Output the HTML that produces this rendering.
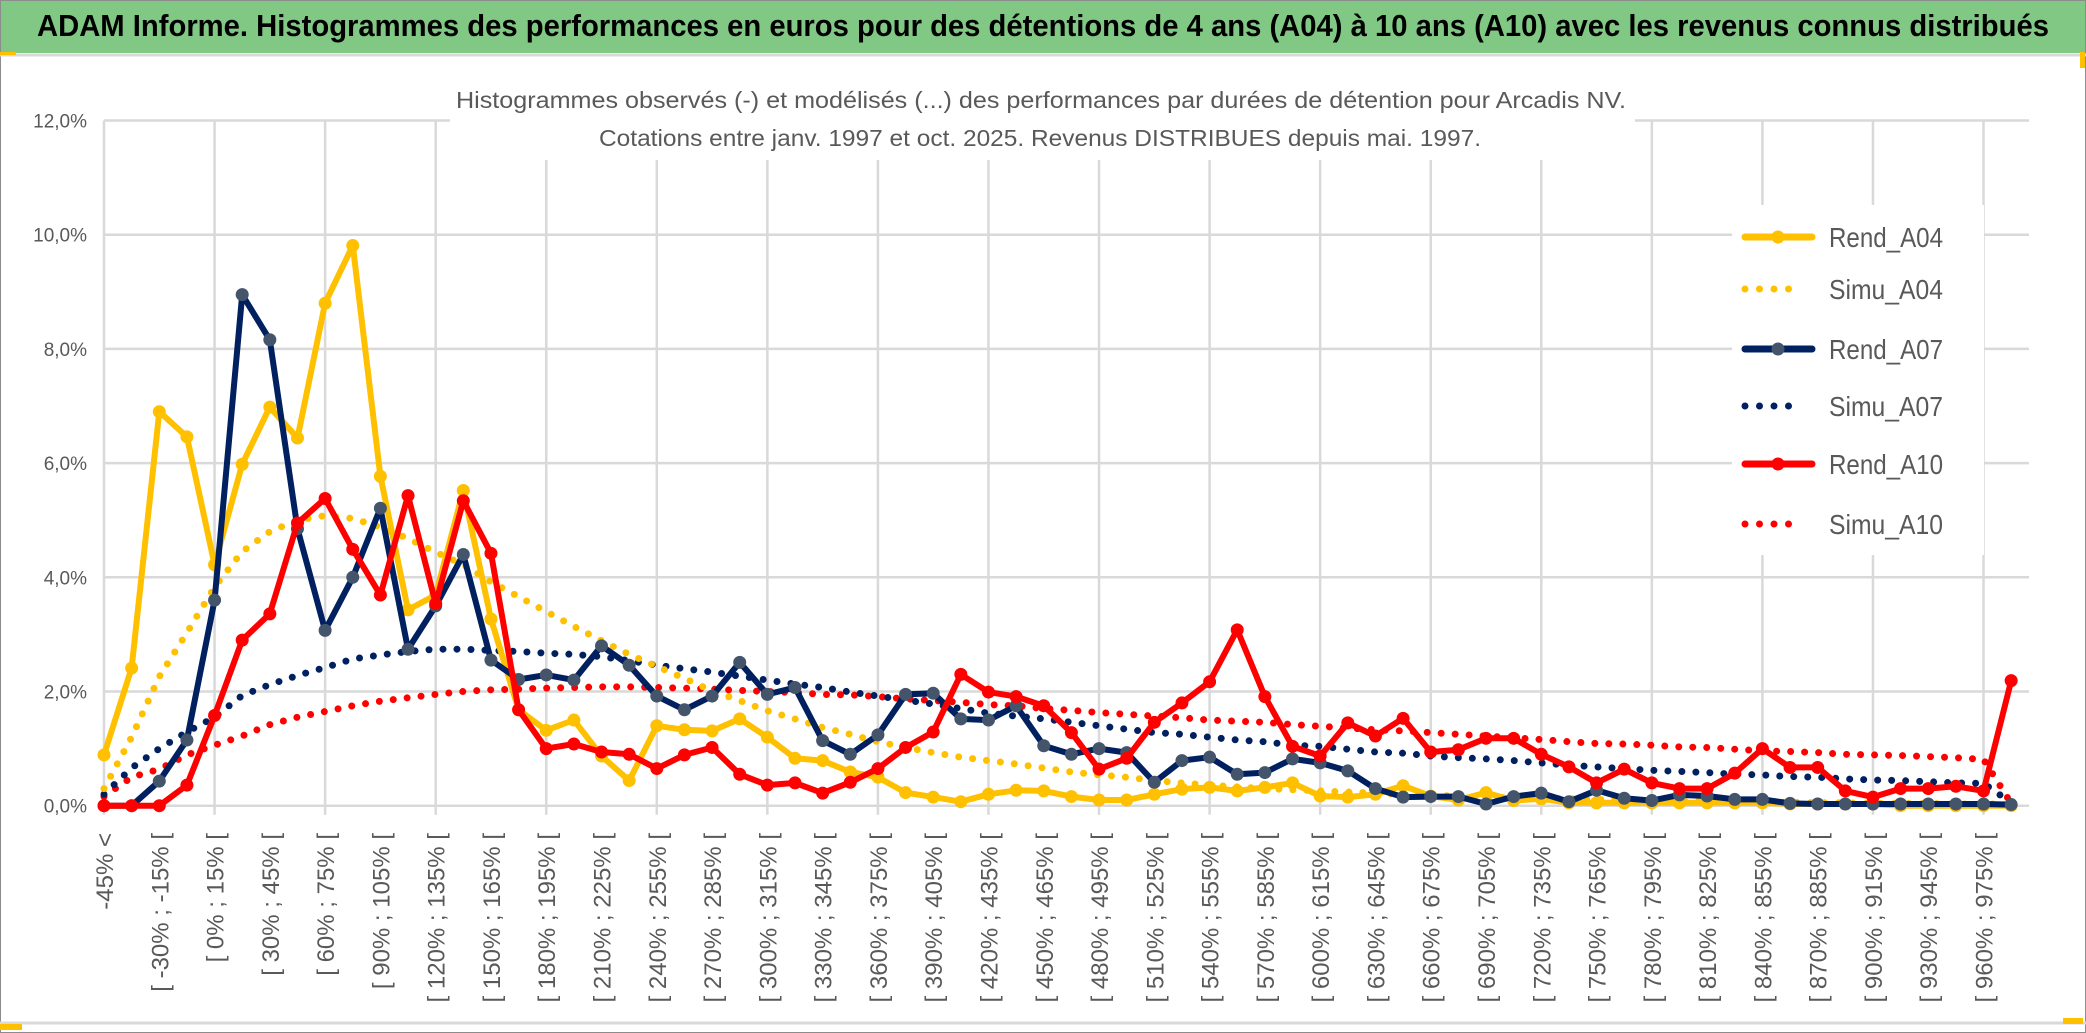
<!DOCTYPE html>
<html><head><meta charset="utf-8"><style>
html,body{margin:0;padding:0;background:#fff;}
svg{display:block;font-family:"Liberation Sans",sans-serif;}
</style></head><body>
<svg id="chart" width="2086" height="1033" viewBox="0 0 2086 1033" xmlns="http://www.w3.org/2000/svg">
<rect x="0" y="0" width="2086" height="1033" fill="#fff"/>
<rect x="0.5" y="0.5" width="2085" height="1032" fill="none" stroke="#8c8c8c" stroke-width="1"/>
<rect x="1" y="1" width="2084" height="52" fill="#80c883"/>
<line x1="0" y1="55" x2="2086" y2="55" stroke="#d9d9d9" stroke-width="3"/>
<line x1="0" y1="1023" x2="2086" y2="1023" stroke="#d9d9d9" stroke-width="3"/>
<rect x="0" y="52" width="16" height="3" fill="#ffc000"/>
<rect x="0" y="1024" width="22" height="6" fill="#ffc000"/>
<rect x="2080" y="52" width="5" height="16" fill="#ffc000"/>
<rect x="2063" y="1018" width="20" height="6" fill="#ffc000"/>
<text x="37" y="36" font-size="31" font-weight="bold" fill="#000" textLength="2012" lengthAdjust="spacingAndGlyphs">ADAM Informe. Histogrammes des performances en euros pour des détentions de 4 ans (A04) à 10 ans (A10) avec les revenus connus distribués</text>
<g id="grid"></g>
<rect x="450" y="78" width="1185" height="82" fill="#fff"/>
<text x="456" y="108" font-size="23" fill="#595959" textLength="1170" lengthAdjust="spacingAndGlyphs">Histogrammes observés (-) et modélisés (...) des performances par durées de détention pour Arcadis NV.</text>
<text x="599" y="146" font-size="23" fill="#595959" textLength="882" lengthAdjust="spacingAndGlyphs">Cotations entre janv. 1997 et oct. 2025. Revenus DISTRIBUES depuis mai. 1997.</text>
<g id="yaxis"></g>
<g id="xaxis"></g>
<g id="series"></g>
<g id="legend"></g>
</svg>
<script>
const xLabels = ["-45% <","[ -30% ; -15% [","[ 0% ; 15% [","[ 30% ; 45% [","[ 60% ; 75% [","[ 90% ; 105% [","[ 120% ; 135% [","[ 150% ; 165% [","[ 180% ; 195% [","[ 210% ; 225% [","[ 240% ; 255% [","[ 270% ; 285% [","[ 300% ; 315% [","[ 330% ; 345% [","[ 360% ; 375% [","[ 390% ; 405% [","[ 420% ; 435% [","[ 450% ; 465% [","[ 480% ; 495% [","[ 510% ; 525% [","[ 540% ; 555% [","[ 570% ; 585% [","[ 600% ; 615% [","[ 630% ; 645% [","[ 660% ; 675% [","[ 690% ; 705% [","[ 720% ; 735% [","[ 750% ; 765% [","[ 780% ; 795% [","[ 810% ; 825% [","[ 840% ; 855% [","[ 870% ; 885% [","[ 900% ; 915% [","[ 930% ; 945% [","[ 960% ; 975% ["];
const yTicks = [0,2,4,6,8,10,12];
const yTickLabels = ["0,0%","2,0%","4,0%","6,0%","8,0%","10,0%","12,0%"];
const rendA04 = [0.89,2.41,6.9,6.46,4.22,5.98,6.98,6.44,8.8,9.81,5.77,3.43,3.69,5.52,3.27,1.68,1.32,1.5,0.87,0.44,1.4,1.33,1.31,1.52,1.2,0.83,0.79,0.59,0.5,0.23,0.15,0.07,0.2,0.27,0.26,0.16,0.1,0.1,0.2,0.29,0.32,0.26,0.32,0.4,0.17,0.15,0.2,0.35,0.17,0.1,0.23,0.09,0.12,0.05,0.05,0.05,0.05,0.05,0.05,0.05,0.05,0.03,0.03,0.03,0.03,0,0,0,0,0];
const simuA04 = [0.3,1.2,2.26,3.03,3.83,4.45,4.8,5.0,5.08,5.03,4.88,4.68,4.44,4.22,3.92,3.66,3.4,3.14,2.89,2.65,2.44,2.23,2.01,1.84,1.66,1.52,1.37,1.25,1.12,1.02,0.93,0.85,0.79,0.73,0.66,0.59,0.54,0.5,0.44,0.4,0.36,0.33,0.3,0.28,0.26,0.24,0.22,0.2,0.18,0.17,0.15,0.14,0.13,0.12,0.11,0.1,0.09,0.08,0.08,0.07,0.06,0.06,0.05,0.05,0.04,0.04,0.04,0.03,0.03,0.03];
const rendA07 = [0,0,0.43,1.15,3.6,8.95,8.16,4.85,3.07,4.0,5.21,2.74,3.5,4.4,2.55,2.21,2.29,2.2,2.8,2.46,1.92,1.68,1.92,2.51,1.95,2.07,1.14,0.9,1.24,1.95,1.97,1.52,1.5,1.75,1.05,0.9,1.0,0.93,0.41,0.79,0.85,0.55,0.58,0.82,0.75,0.61,0.3,0.15,0.16,0.16,0.03,0.16,0.22,0.07,0.27,0.13,0.09,0.19,0.17,0.11,0.11,0.04,0.03,0.03,0.03,0.03,0.03,0.03,0.03,0.02];
const simuA07 = [0.2,0.66,1.0,1.29,1.55,1.93,2.12,2.28,2.42,2.57,2.64,2.7,2.74,2.74,2.72,2.7,2.67,2.65,2.61,2.54,2.46,2.4,2.34,2.27,2.2,2.13,2.07,1.99,1.92,1.85,1.78,1.7,1.62,1.57,1.52,1.46,1.4,1.34,1.28,1.25,1.2,1.15,1.12,1.06,1.04,0.99,0.94,0.92,0.87,0.84,0.82,0.79,0.75,0.71,0.68,0.65,0.62,0.6,0.58,0.55,0.54,0.51,0.5,0.47,0.45,0.44,0.42,0.4,0.39,0.05];
const rendA10 = [0,0,0,0.36,1.58,2.9,3.36,4.95,5.38,4.49,3.69,5.43,3.54,5.34,4.42,1.68,1.0,1.08,0.94,0.9,0.65,0.89,1.02,0.55,0.36,0.4,0.22,0.41,0.65,1.02,1.29,2.3,1.99,1.91,1.75,1.28,0.64,0.83,1.46,1.8,2.17,3.08,1.91,1.04,0.87,1.45,1.22,1.53,0.94,0.98,1.18,1.18,0.9,0.68,0.4,0.64,0.4,0.3,0.3,0.57,1.0,0.67,0.67,0.26,0.15,0.3,0.3,0.34,0.26,2.19];
const simuA10 = [0.16,0.5,0.64,0.89,1.06,1.22,1.42,1.55,1.65,1.75,1.83,1.89,1.95,2.0,2.03,2.04,2.06,2.07,2.08,2.08,2.07,2.06,2.04,2.02,2.0,1.98,1.95,1.94,1.91,1.87,1.84,1.81,1.77,1.75,1.7,1.67,1.63,1.6,1.57,1.54,1.5,1.48,1.46,1.42,1.39,1.36,1.33,1.31,1.28,1.25,1.22,1.19,1.16,1.12,1.09,1.08,1.06,1.03,1.02,0.99,0.96,0.95,0.93,0.9,0.89,0.88,0.86,0.84,0.81,0.04];
const seriesNames = ["Rend_A04","Simu_A04","Rend_A07","Simu_A07","Rend_A10","Simu_A10"];

const NS = "http://www.w3.org/2000/svg";
const X0 = 104, DX = 27.64, Y0 = 805.7, YPX = 57.1;
function xs(i){ return X0 + i*DX; }
function ys(v){ return Y0 - v*YPX; }
function mk(tag, attrs, parent){ const e=document.createElementNS(NS,tag); for(const k in attrs) e.setAttribute(k,attrs[k]); parent.appendChild(e); return e; }

const grid = document.getElementById('grid');
yTicks.forEach(function(t){
  const l = mk('line',{x1:X0,x2:2029,y1:ys(t),y2:ys(t),stroke:'#d9d9d9','stroke-width':2.5},grid);
  
  
});
for(let i=0;i<rendA04.length;i+=4){
  const l = mk('line',{x1:xs(i),x2:xs(i),y1:ys(12),y2:Y0+9,stroke:'#d9d9d9','stroke-width':2.5},grid);
  
  
}
const yax = document.getElementById('yaxis');
yTicks.forEach(function(t,k){
  const tx = mk('text',{x:87,y:ys(t)+7,'font-size':19,fill:'#595959','text-anchor':'end'},yax);
  tx.textContent = yTickLabels[k];
  
  
});
const xax = document.getElementById('xaxis');
xLabels.forEach(function(lab,k){
  const x = xs(k*2)+9, y = 833;
  const tx = mk('text',{x:x,y:y,'font-size':24,fill:'#595959','text-anchor':'end',transform:'rotate(-90 '+x+' '+y+')'},xax);
  tx.textContent = lab;
  
  
});

const ser = document.getElementById('series');
function pts(arr){ return arr.map(function(v,i){return xs(i).toFixed(1)+','+ys(v).toFixed(1);}).join(' '); }
function dotted(arr,color,name){
  const p = mk('polyline',{points:pts(arr),fill:'none',stroke:color,'stroke-width':7,'stroke-linecap':'round','stroke-dasharray':'0 14'},ser);
  
  
}
function solid(arr,color,mcol,name){
  const g = mk('g',{},ser);
  
  
  mk('polyline',{points:pts(arr),fill:'none',stroke:color,'stroke-width':6,'stroke-linejoin':'round'},g);
  arr.forEach(function(v,i){
    const c = mk('circle',{cx:xs(i),cy:ys(v),r:6.5,fill:mcol},g);
    
    
  });
}
dotted(simuA10,'#ff0000','simu-a10-line');
dotted(simuA07,'#002060','simu-a07-line');
dotted(simuA04,'#ffc000','simu-a04-line');
solid(rendA04,'#ffc000','#ffc000','rend-a04-line');
solid(rendA07,'#002060','#44546a','rend-a07-line');
solid(rendA10,'#ff0000','#ff0000','rend-a10-line');

const leg = document.getElementById('legend');
mk('rect',{x:1732,y:205,width:252,height:350,fill:'#fff'},leg);
const legY = [237,289,349,406,464,524];
const legC = ['#ffc000','#ffc000','#002060','#002060','#ff0000','#ff0000'];
const legM = ['#ffc000',null,'#44546a',null,'#ff0000',null];
seriesNames.forEach(function(n,k){
  const g = mk('g',{},leg);
  
  
  const y = legY[k];
  if(legM[k]){
    mk('line',{x1:1745,x2:1812,y1:y,y2:y,stroke:legC[k],'stroke-width':7,'stroke-linecap':'round'},g);
    mk('circle',{cx:1778,cy:y,r:6.5,fill:legM[k]},g);
  } else {
    mk('line',{x1:1745,x2:1800,y1:y,y2:y,stroke:legC[k],'stroke-width':7,'stroke-linecap':'round','stroke-dasharray':'0 14.5'},g);
  }
  const t = mk('text',{x:1829,y:y+10,'font-size':28,fill:'#595959',textLength:114,lengthAdjust:'spacingAndGlyphs'},g);
  t.textContent = n;
});
</script>
</body></html>
